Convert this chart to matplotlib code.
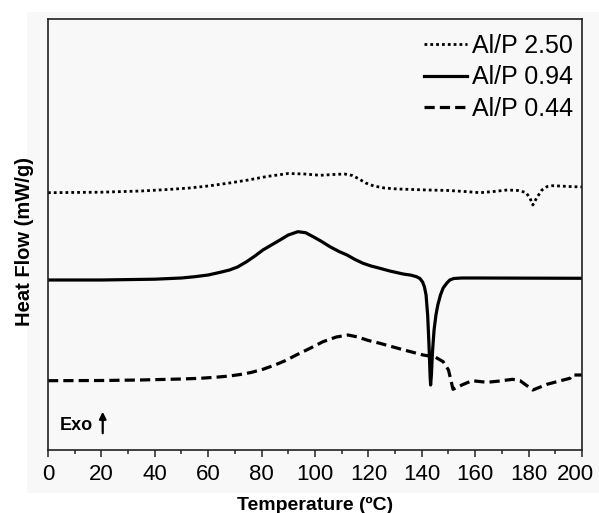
import matplotlib
matplotlib.use("Agg")
import matplotlib.pyplot as plt
from matplotlib.patches import Rectangle
from matplotlib.ticker import MultipleLocator
from matplotlib.transforms import ScaledTranslation

plt.rcParams['font.family'] = ['Liberation Sans', 'DejaVu Sans']

# DSC traces, heat flow in arbitrary offset units (exo up)
t_250 = [0, 20, 35, 45, 53, 60, 68, 75, 82, 90, 96, 102, 107, 111, 114, 116.5, 119, 122, 126,
         130.7, 142, 150, 156, 161.8, 167, 172, 176, 179, 180.5, 181.6, 183, 185, 187, 189,
         195, 200]
hf_250 = [257.3, 257.8, 259, 260.5, 262, 264, 267, 270, 273.5, 276.5, 276, 274.7, 275.5, 276,
          274.5, 271, 267, 264, 262, 261, 260, 259.5, 258.5, 257.3, 258.5, 260, 259.5, 257.5,
          252, 245, 252, 260, 263.5, 264.3, 263.5, 263]

t_094 = [0, 20, 40, 50, 55, 60, 65, 68, 71, 74.4, 77.5, 80.5, 84, 86.9, 90, 93.6, 96.5, 99.3,
         102.5, 105.6, 109, 112, 115, 118, 121, 124.3, 128, 133, 136, 138, 139.3, 140.3, 141,
         141.6, 142.2, 142.7, 143.1, 143.3, 143.6, 144, 144.6, 145.3, 146, 147, 148, 149.4,
         150.5, 152, 155, 160, 200]
hf_094 = [170, 170, 170.8, 172, 173.3, 175, 178, 180, 183, 188.3, 194, 200, 205.5, 210, 215,
          218.3, 217.3, 213.3, 208.5, 203.3, 198.5, 195, 190.5, 186.7, 184, 181.7, 179, 176,
          174.8, 173.3, 171.5, 168, 163, 155, 135, 105, 75, 65, 75, 98, 120, 135, 145, 155,
          162, 167, 170, 171.5, 172, 172, 171.7]

t_044 = [0, 20, 34.5, 50, 57, 63, 68, 72, 76, 80.5, 85, 89, 93, 98, 103, 108, 112.4, 116, 120,
         124.3, 132, 140.5, 145, 148, 150, 151.7, 155, 158.8, 164.4, 169.3, 174, 176.8, 181.6,
         186.9, 193, 195.5, 196.2, 200]
hf_044 = [69.3, 69.5, 70, 71, 71.7, 72.8, 74, 75.5, 77.5, 80.7, 85, 89.5, 95, 101.5, 108.3,
          113, 115, 113, 109.5, 106.7, 101, 95, 93, 88.3, 80, 60.7, 65, 69.3, 67.7, 69, 70.7,
          69.3, 60, 65.7, 70, 71.7, 75, 75]

labels = ['Al/P 2.50', 'Al/P 0.94', 'Al/P 0.44']
xticks = [0, 20, 40, 60, 80, 100, 120, 140, 160, 180, 200]

fig = plt.figure(figsize=(5.99, 5.13), dpi=100)
fig.patch.set_facecolor('white')
bg = '#f8f8f8'
fig.patches.append(Rectangle((27 / 599, 20 / 513), 1 - 27 / 599, 481 / 513,
                             transform=fig.transFigure, facecolor=bg, edgecolor='none',
                             zorder=-10))

ax = fig.add_axes([0.0801, 0.1228, 0.8915, 0.8402])
ax.set_facecolor(bg)

ax.plot(t_250, hf_250, color='black', lw=2.0, dashes=(1, 1.1), label=labels[0])
ax.plot(t_094, hf_094, color='black', lw=2.3, label=labels[1])
ax.plot(t_044, hf_044, color='black', lw=2.3, dashes=(3.2, 1.6), label=labels[2])

ax.set_xlim(0, 200)
ax.set_ylim(0, 431)
ax.set_xticks(xticks, [str(t) for t in xticks])
ax.xaxis.set_minor_locator(MultipleLocator(10))
ax.set_yticks([])
ax.tick_params(axis='x', which='major', direction='out', length=5, width=1.1,
               labelsize=16, pad=5, color='#222222')
ax.tick_params(axis='x', which='minor', direction='out', length=3, width=1.1, color='#222222')
for s in ax.spines.values():
    s.set_linewidth(1.2)
    s.set_color('#222222')

# nudge the last tick label so it stays inside the figure
last = ax.xaxis.get_major_ticks()[-1].label1
last.set_transform(last.get_transform() + ScaledTranslation(-7 / 100, 0, fig.dpi_scale_trans))

ax.set_xlabel('Temperature (\u00baC)', fontsize=14, fontweight='bold', labelpad=9)
ax.set_ylabel('Heat Flow (mW/g)', fontsize=14.5, fontweight='bold')
ax.yaxis.set_label_coords(-0.026, 0.483)

# exotherm direction marker
ax.annotate('', xy=(20.5, 41), xytext=(20.5, 14),
            arrowprops=dict(arrowstyle='-|>', color='black', lw=1.6, mutation_scale=10))
ax.text(4.5, 24.5, 'Exo', fontsize=13, fontweight='bold', va='center', ha='left')

leg = ax.legend(loc='upper right', frameon=False, fontsize=18, handlelength=1.7,
                handletextpad=0.2, labelspacing=0.3, borderaxespad=0.2,
                bbox_to_anchor=(1.0 + 6 / 534, 1.0))

fig.savefig('out.png', dpi=100, facecolor='white')
